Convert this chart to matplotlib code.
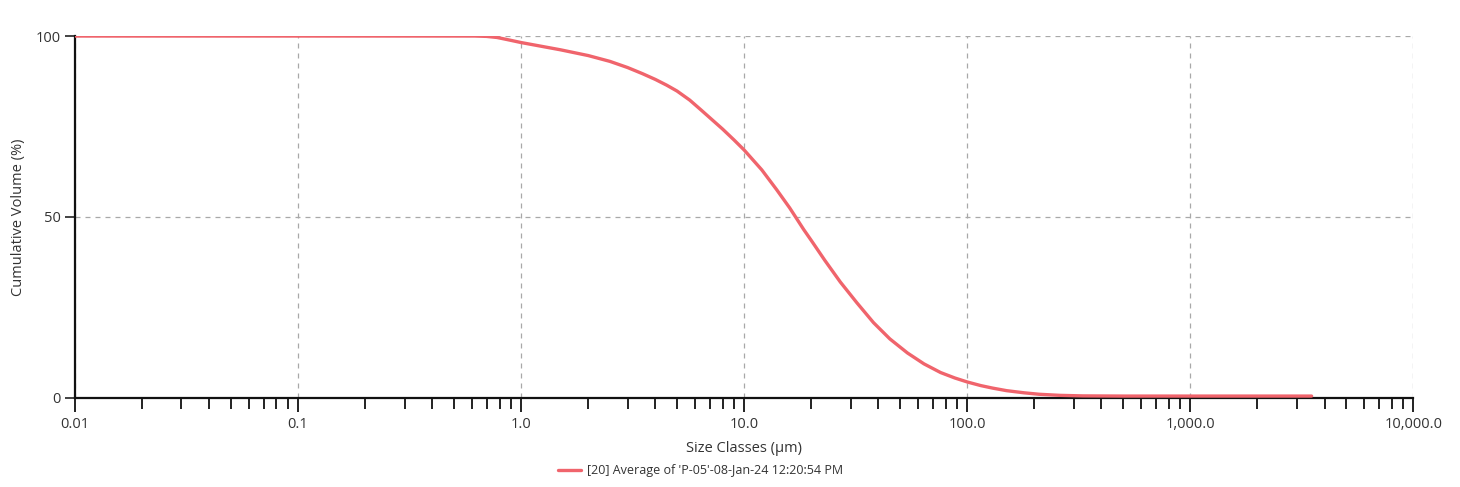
import matplotlib
matplotlib.use("Agg")
import matplotlib.pyplot as plt
from matplotlib.ticker import FixedLocator, LogLocator, NullFormatter

# Particle size (um) and cumulative volume (%)
size_um = [0.01, 0.03, 0.1, 0.3, 0.5, 0.62, 0.7, 0.78, 0.87, 1.0, 1.2, 1.5,
           2.0, 2.5, 3.0, 3.5, 4.0, 4.5, 5.0, 5.7, 6.4, 7.2, 8.0, 9.0,
           10.0, 12.0, 14.0, 16.0, 17.0, 18.5, 20.0, 23.0, 27.0, 32.0, 38.0,
           45.0, 54.0, 64.0, 76.0, 88.0, 100.0, 115.0, 130.0, 150.0, 180.0,
           210.0, 260.0, 330.0, 500.0, 1000.0, 2000.0, 3500.0]
cum_volume = [100.0, 100.0, 100.0, 100.0, 100.0, 100.0, 99.9, 99.6, 99.0,
              98.2, 97.3, 96.2, 94.6, 93.0, 91.3, 89.6, 88.0, 86.4, 84.8,
              82.3, 79.6, 76.8, 74.3, 71.3, 68.5, 63.0, 57.5, 52.5, 50.0,
              46.5, 43.5, 38.0, 32.0, 26.3, 20.8, 16.3, 12.4, 9.4, 7.0,
              5.5, 4.4, 3.4, 2.7, 2.0, 1.4, 1.0, 0.7, 0.55, 0.5, 0.5, 0.5,
              0.5]

x_ticks = [0.01, 0.1, 1.0, 10.0, 100.0, 1000.0, 10000.0]
x_tick_labels = ["0.01", "0.1", "1.0", "10.0", "100.0", "1,000.0", "10,000.0"]
y_ticks = [0, 50, 100]

series_label = "[20] Average of 'P-05'-08-Jan-24 12:20:54 PM"
line_color = "#f0646c"

plt.rcParams["font.family"] = ["Open Sans", "DejaVu Sans"]

fig = plt.figure(figsize=(14.6, 4.87), dpi=100)
ax = fig.add_axes([0.0514, 0.183, 0.9166, 0.743])

ax.plot(size_um, cum_volume, color=line_color, linewidth=2.4,
        label=series_label, solid_capstyle="round", solid_joinstyle="round",
        zorder=3)

ax.set_xscale("log")
ax.set_xlim(0.01, 10000)
ax.set_ylim(0, 100)

ax.xaxis.set_major_locator(FixedLocator(x_ticks))
ax.set_xticklabels(x_tick_labels)
ax.xaxis.set_minor_locator(LogLocator(base=10, subs=range(2, 10)))
ax.xaxis.set_minor_formatter(NullFormatter())
ax.set_yticks(y_ticks)

ax.tick_params(axis="x", which="major", direction="out", length=10,
               width=1.4, color="#222222", labelsize=10.5,
               labelcolor="#333333", pad=4)
ax.tick_params(axis="x", which="minor", direction="out", length=8,
               width=1.4, color="#222222")
ax.tick_params(axis="y", direction="out", length=7, width=1.2,
               color="#222222", labelsize=10.5, labelcolor="#333333")

for side in ["top", "right"]:
    ax.spines[side].set_visible(False)
for side in ["left", "bottom"]:
    ax.spines[side].set_color("#111111")
    ax.spines[side].set_linewidth(1.6)

ax.grid(True, which="major", color="#a8a8a8", linestyle=(0, (4, 4)),
        linewidth=0.9)
ax.set_axisbelow(True)

ax.set_xlabel("Size Classes (µm)", fontsize=10.5, color="#333333", labelpad=6)
ax.set_ylabel("Cumulative Volume (%)", fontsize=10.5, color="#333333",
              labelpad=7)

fig.legend(loc="center", bbox_to_anchor=(0.48, 0.034), frameon=False,
           fontsize=9, handlelength=1.8, handletextpad=0.5,
           labelcolor="#333333")

fig.savefig("out.png", dpi=100, facecolor="white")
plt.close(fig)
